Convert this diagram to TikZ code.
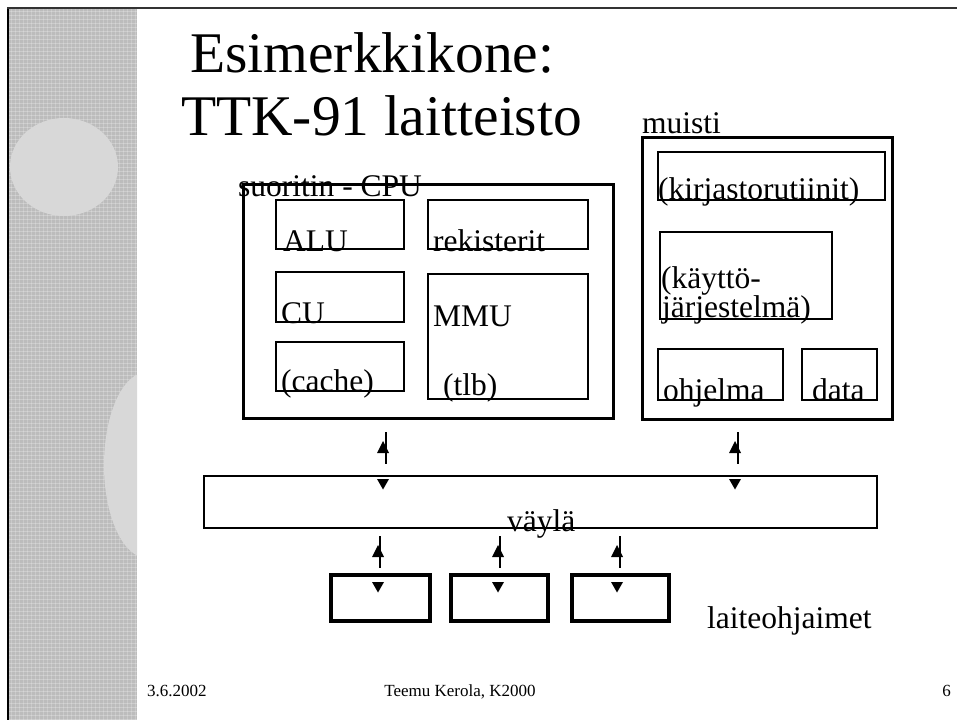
\documentclass[tikz,border=0pt]{standalone}
\usepackage{fontspec}
\setmainfont{Liberation Serif}
\newcommand\pbox[6]{\node[#1, anchor=north west, inner sep=0pt, outer sep=0pt,
  minimum width={(#5-#3)*1pt}, minimum height={(#6-#4)*1pt}] (#2) at (#3,#4) {};}
\newcommand\biarrow[5]{%
  \coordinate (#1-t) at (#2,#3);
  \coordinate (#1-b) at (#2,#3+32);
  \draw[conn] (#1-t) -- (#1-b);
  \fill[head] (#4,#3+9) -- (#4-6,#3+21) -- (#4+6,#3+21) -- cycle;
  \fill[head] (#4-6,#5) -- (#4+6,#5) -- (#4,#5+10.5) -- cycle;}
\begin{document}
\begin{tikzpicture}[x=1pt,y=-1pt,
  outerbox/.style={draw, line width=3pt},
  innerbox/.style={draw, line width=1.3pt},
  devbox/.style={draw, line width=3.5pt},
  busbox/.style={draw, line width=1.4pt},
  conn/.style={line width=1.5pt},
  head/.style={fill=black},
  lbl/.style={anchor=base west, inner sep=0pt, font=\fontsize{31.5}{37}\selectfont},
  ttl/.style={anchor=base west, inner sep=0pt, font=\fontsize{57.5}{68}\selectfont},
  foot/.style={inner sep=0pt, font=\fontsize{17}{20}\selectfont}]
\useasboundingbox (0,0) rectangle (957,720);
% decorative strip
\fill[fill={rgb,255:red,188;green,188;blue,188}] (9,9) rectangle (137,720);
\foreach \yy in {11,15,...,719} \draw[white, opacity=0.25, line width=0.9pt] (9,\yy) -- (137,\yy);
\foreach \xx in {11,15,...,136} \draw[white, opacity=0.2, line width=0.9pt] (\xx,9) -- (\xx,720);
\begin{scope}
\clip (9,9) rectangle (137,720);
\fill[fill={rgb,255:red,216;green,216;blue,216}] (64,167) ellipse [x radius=54pt, y radius=49pt];
\fill[fill={rgb,255:red,216;green,216;blue,216}] (147,465) ellipse [x radius=43pt, y radius=93pt];
\end{scope}
\draw[line width=2.5pt, black] (8,7) -- (8,720);
\draw[line width=2.2pt, black!80] (7,8) -- (957,8);
% title
\node[ttl] (t1) at (190,72) {Esimerkkikone:};
\node[ttl] (t2) at (181,135) {TTK-91 laitteisto};
% CPU
\pbox{outerbox}{cpu}{243}{184}{613}{418}
\pbox{innerbox}{alu}{276}{200}{404}{249}
\pbox{innerbox}{reg}{428}{200}{588}{249}
\pbox{innerbox}{cu}{276}{272}{404}{322}
\pbox{innerbox}{mmu}{428}{274}{588}{399}
\pbox{innerbox}{cache}{276}{342}{404}{391}
\node[lbl] (lcpu) at (238,196) {suoritin - CPU};
\node[lbl] (lalu) at (283,251) {ALU};
\node[lbl] (lreg) at (433,251) {rekisterit};
\node[lbl] (lcu) at (281,323) {CU};
\node[lbl] (lmmu) at (433,326) {MMU};
\node[lbl] (lcache) at (281,391) {(cache)};
\node[lbl] (ltlb) at (443,395) {(tlb)};
% memory
\pbox{outerbox}{mem}{642}{137}{892}{419}
\pbox{innerbox}{lib}{658}{152}{885}{200}
\pbox{innerbox}{os}{660}{232}{832}{319}
\pbox{innerbox}{prog}{658}{349}{783}{400}
\pbox{innerbox}{data}{802}{349}{877}{400}
\node[lbl] (lmem) at (642,133) {muisti};
\node[lbl] (llib) at (658,199) {(kirjastorutiinit)};
\node[lbl] (los1) at (661,288) {(käyttö-};
\node[lbl] (los2) at (662,317) {järjestelmä)};
\node[lbl] (lprog) at (663,400) {ohjelma};
\node[lbl] (ldata) at (812,400) {data};
% bus
\pbox{busbox}{bus}{204}{476}{877}{528}
\node[lbl] (lbus) at (507,531) {väylä};
% device controllers
\pbox{devbox}{dev1}{331}{575}{430}{621}
\pbox{devbox}{dev2}{451}{575}{548}{621}
\pbox{devbox}{dev3}{572}{575}{669}{621}
\node[lbl] (ldev) at (707,628) {laiteohjaimet};
% connectors
\biarrow{a1}{386}{432}{383}{479}
\biarrow{a2}{738}{432}{735}{479}
\biarrow{a3}{380}{536}{378}{582}
\biarrow{a4}{500}{536}{498}{582}
\biarrow{a5}{620}{536}{617}{582}
% footer
\node[foot, anchor=base west] (fdate) at (147,696) {3.6.2002};
\node[foot, anchor=base] (fauth) at (460,696) {Teemu Kerola, K2000};
\node[foot, anchor=base east] (fnum) at (951,696) {6};
\end{tikzpicture}
\end{document}
